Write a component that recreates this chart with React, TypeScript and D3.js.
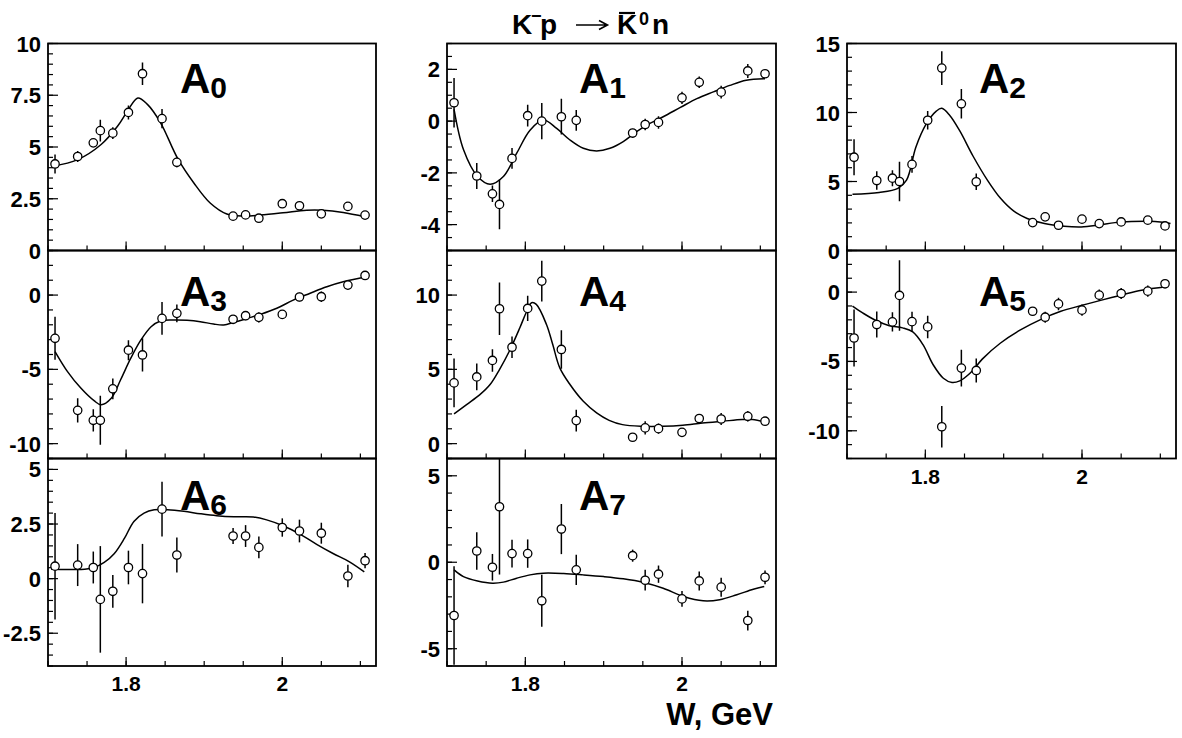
import React from 'react';
import * as d3 from 'd3';

// beam energies (W, GeV) of the measured points
const energies = [1.709, 1.738, 1.758, 1.767, 1.783, 1.803, 1.821, 1.846, 1.865, 1.937, 1.953, 1.97, 2.0, 2.022, 2.05, 2.084, 2.106];

const a0 = [4.18, 4.54, 5.2, 5.79, 5.67, 6.67, 8.54, 6.37, 4.26, 1.66, 1.72, 1.56, 2.26, 2.16, 1.77, 2.13, 1.71];
const a0Err = [0.46, 0.27, 0.18, 0.53, 0.28, 0.34, 0.54, 0.46, 0.24, 0.1, 0.1, 0.1, 0.1, 0.1, 0.1, 0.1, 0.1];
const a1 = [0.71, -2.12, -2.81, -3.22, -1.44, 0.21, 0.0, 0.17, 0.03, -0.46, -0.13, -0.05, 0.9, 1.5, 1.12, 1.94, 1.83];
const a1Err = [0.96, 0.5, 0.32, 0.96, 0.4, 0.42, 0.7, 0.69, 0.4, 0.17, 0.22, 0.24, 0.24, 0.22, 0.25, 0.27, 0.14];
const a2 = [6.76, 5.07, 5.24, 5.0, 6.24, 9.44, 13.22, 10.63, 4.98, 2.02, 2.44, 1.83, 2.27, 1.95, 2.07, 2.2, 1.78];
const a2Err = [1.3, 0.67, 0.58, 1.43, 0.6, 0.67, 1.22, 1.07, 0.6, 0.15, 0.2, 0.15, 0.15, 0.15, 0.15, 0.2, 0.15];
const a3 = [-2.91, -7.76, -8.43, -8.43, -6.31, -3.71, -4.03, -1.57, -1.23, -1.63, -1.39, -1.5, -1.3, -0.13, -0.11, 0.67, 1.32];
const a3Err = [1.45, 0.82, 0.75, 1.65, 0.7, 0.67, 1.12, 1.1, 0.6, 0.25, 0.3, 0.35, 0.2, 0.3, 0.35, 0.3, 0.2];
const a4 = [4.09, 4.49, 5.6, 9.08, 6.49, 9.1, 10.94, 6.34, 1.55, 0.43, 1.06, 1.01, 0.76, 1.69, 1.66, 1.84, 1.51];
const a4Err = [1.64, 0.9, 0.76, 1.76, 0.72, 0.85, 1.37, 1.3, 0.73, 0.2, 0.45, 0.35, 0.3, 0.3, 0.4, 0.35, 0.2];
const a5 = [-3.31, -2.34, -2.15, -0.24, -2.13, -2.51, -9.71, -5.48, -5.65, -1.38, -1.81, -0.85, -1.3, -0.22, -0.1, 0.07, 0.6];
const a5Err = [2.05, 0.94, 0.69, 2.54, 0.72, 0.81, 1.5, 1.33, 0.87, 0.3, 0.4, 0.45, 0.4, 0.4, 0.4, 0.4, 0.25];
const a6 = [0.57, 0.62, 0.51, -0.95, -0.58, 0.51, 0.23, 3.18, 1.08, 1.95, 1.95, 1.43, 2.34, 2.18, 2.08, 0.12, 0.82];
const a6Err = [2.44, 0.96, 0.73, 2.44, 0.75, 0.77, 1.36, 1.25, 0.8, 0.37, 0.5, 0.5, 0.42, 0.52, 0.48, 0.52, 0.35];
const a7 = [-3.08, 0.65, -0.29, 3.21, 0.5, 0.5, -2.23, 1.92, -0.44, 0.38, -1.04, -0.69, -2.12, -1.08, -1.44, -3.37, -0.87];
const a7Err = [2.85, 1.08, 0.77, 3.92, 0.8, 0.82, 1.5, 1.45, 0.87, 0.35, 0.6, 0.5, 0.46, 0.55, 0.55, 0.57, 0.4];

// fit curves, [W, value]
const a0Fit = [[1.706, 4.07], [1.738, 4.39], [1.768, 5.12], [1.789, 6.0], [1.802, 6.75], [1.815, 7.37], [1.827, 7.07], [1.844, 6.18], [1.866, 4.45], [1.887, 3.25], [1.908, 2.28], [1.929, 1.76], [1.95, 1.66], [1.972, 1.71], [2.001, 1.82], [2.031, 1.95], [2.052, 1.95], [2.078, 1.84], [2.106, 1.63]];
const a1Fit = [[1.709, 0.45], [1.721, -1.1], [1.739, -2.14], [1.755, -2.44], [1.772, -2.14], [1.789, -1.24], [1.806, -0.35], [1.823, 0.04], [1.84, -0.28], [1.857, -0.73], [1.874, -1.05], [1.891, -1.15], [1.908, -1.05], [1.925, -0.79], [1.942, -0.41], [1.959, -0.09], [1.976, 0.17], [1.998, 0.53], [2.019, 0.87], [2.04, 1.13], [2.061, 1.38], [2.082, 1.58], [2.106, 1.64]];
const a2Fit = [[1.707, 4.07], [1.741, 4.2], [1.765, 4.5], [1.776, 5.1], [1.788, 7.5], [1.801, 9.15], [1.814, 10.1], [1.821, 10.3], [1.831, 9.8], [1.844, 8.66], [1.861, 6.83], [1.879, 5.12], [1.896, 3.78], [1.913, 2.85], [1.93, 2.32], [1.952, 1.95], [1.977, 1.76], [1.999, 1.71], [2.02, 1.83], [2.042, 2.02], [2.063, 2.1], [2.085, 2.12], [2.1, 2.07], [2.113, 1.95]];
const a3Fit = [[1.709, -3.8], [1.725, -5.15], [1.742, -6.26], [1.759, -7.11], [1.768, -7.38], [1.781, -6.94], [1.793, -5.7], [1.806, -4.25], [1.819, -3.02], [1.832, -2.13], [1.844, -1.74], [1.861, -1.68], [1.878, -1.7], [1.895, -1.79], [1.912, -1.95], [1.925, -2.01], [1.938, -1.83], [1.955, -1.57], [1.972, -1.3], [1.993, -0.89], [2.014, -0.34], [2.035, 0.11], [2.057, 0.56], [2.078, 0.89], [2.106, 1.21]];
const a4Fit = [[1.709, 2.0], [1.725, 2.63], [1.742, 3.3], [1.755, 3.98], [1.767, 4.99], [1.78, 6.27], [1.793, 7.8], [1.801, 8.81], [1.808, 9.48], [1.814, 9.37], [1.827, 8.02], [1.835, 6.67], [1.844, 5.1], [1.857, 3.98], [1.874, 2.85], [1.891, 2.07], [1.907, 1.57], [1.924, 1.28], [1.95, 1.17], [1.975, 1.17], [2.001, 1.24], [2.026, 1.39], [2.052, 1.51], [2.077, 1.62], [2.09, 1.62], [2.105, 1.46]];
const a5Fit = [[1.707, -1.01], [1.72, -1.5], [1.737, -2.05], [1.754, -2.42], [1.771, -2.58], [1.784, -2.87], [1.797, -3.79], [1.81, -5.24], [1.823, -6.21], [1.834, -6.52], [1.844, -6.4], [1.857, -5.85], [1.874, -4.76], [1.896, -3.67], [1.922, -2.71], [1.947, -1.98], [1.973, -1.38], [1.999, -0.97], [2.025, -0.58], [2.05, -0.22], [2.076, 0.14], [2.108, 0.39]];
const a6Fit = [[1.704, 0.43], [1.725, 0.42], [1.747, 0.43], [1.759, 0.51], [1.772, 0.74], [1.785, 1.15], [1.798, 1.85], [1.81, 2.62], [1.823, 3.0], [1.836, 3.15], [1.853, 3.15], [1.874, 3.08], [1.895, 2.97], [1.916, 2.88], [1.938, 2.83], [1.963, 2.82], [1.98, 2.69], [2.001, 2.42], [2.023, 2.03], [2.044, 1.57], [2.065, 1.15], [2.086, 0.77], [2.105, 0.31]];
const a7Fit = [[1.709, -0.44], [1.721, -0.83], [1.739, -1.08], [1.758, -1.21], [1.772, -1.15], [1.789, -0.92], [1.806, -0.73], [1.823, -0.63], [1.849, -0.65], [1.874, -0.73], [1.9, -0.83], [1.925, -0.96], [1.951, -1.17], [1.976, -1.5], [2.002, -1.98], [2.027, -2.23], [2.048, -2.17], [2.07, -1.88], [2.091, -1.56], [2.105, -1.4]];

const xDomain = [1.7, 2.12];
const xMajor = [1.8, 2.0];
const xLabels = ['1.8', '2'];

const font = "'Liberation Sans', Arial, Helvetica, sans-serif";
const colX = [[48, 376], [447, 776], [847, 1176]];
const rowY = [[43.5, 250.5], [250.5, 458.5], [458.5, 666]];
const labelDy = [49.5, 55, 51.5];

const panels = [
  { n: 0, vals: a0, errs: a0Err, fit: a0Fit, domain: [0, 10], major: 2.5, minor: 0.5, row: 0, col: 0 },
  { n: 1, vals: a1, errs: a1Err, fit: a1Fit, domain: [-5, 3], major: 2, minor: 0.5, row: 0, col: 1 },
  { n: 2, vals: a2, errs: a2Err, fit: a2Fit, domain: [0, 15], major: 5, minor: 1, row: 0, col: 2 },
  { n: 3, vals: a3, errs: a3Err, fit: a3Fit, domain: [-11, 3], major: 5, minor: 1, row: 1, col: 0 },
  { n: 4, vals: a4, errs: a4Err, fit: a4Fit, domain: [-1, 13], major: 5, minor: 1, row: 1, col: 1 },
  { n: 5, vals: a5, errs: a5Err, fit: a5Fit, domain: [-12, 3], major: 5, minor: 1, row: 1, col: 2, xAxis: true },
  { n: 6, vals: a6, errs: a6Err, fit: a6Fit, domain: [-4, 5.5], major: 2.5, minor: 0.5, row: 2, col: 0, xAxis: true },
  { n: 7, vals: a7, errs: a7Err, fit: a7Fit, domain: [-6, 6], major: 5, minor: 1, row: 2, col: 1, xAxis: true },
];

function steps(lo: number, hi: number, step: number) {
  const out: number[] = [];
  for (let k = Math.ceil(lo / step - 1e-9); k * step <= hi + 1e-9; k++) out.push(+(k * step).toFixed(4));
  return out;
}

function Panel({ p }: { p: any }) {
  const [x0, x1] = colX[p.col];
  const [y0, y1] = rowY[p.row];
  const x = d3.scaleLinear().domain(xDomain).range([x0, x1]);
  const y = d3.scaleLinear().domain(p.domain).range([y1, y0]);
  const line = d3
    .line<number[]>()
    .x(d => x(d[0]))
    .y(d => y(d[1]))
    .curve(d3.curveCatmullRom.alpha(0.5));
  const clipId = `clip${p.n}`;
  const yMinor = steps(p.domain[0], p.domain[1], p.minor);
  const yMajor = steps(p.domain[0], p.domain[1], p.major);
  const xMinor = steps(xDomain[0], xDomain[1], 0.05);

  return (
    <g>
      <defs>
        <clipPath id={clipId}>
          <rect x={x0} y={y0} width={x1 - x0} height={y1 - y0} />
        </clipPath>
      </defs>
      <g stroke="#000" strokeWidth={1.2}>
        {yMinor.map((v, i) => (
          <line key={'ym' + i} x1={x0} x2={x0 + 5} y1={y(v)} y2={y(v)} />
        ))}
        {yMajor.map((v, i) => (
          <line key={'yM' + i} x1={x0} x2={x0 + 10} y1={y(v)} y2={y(v)} />
        ))}
        {xMinor.map((v, i) => (
          <line key={'xm' + i} x1={x(v)} x2={x(v)} y1={y1} y2={y1 - 5} />
        ))}
        {xMajor.map((v, i) => (
          <line key={'xM' + i} x1={x(v)} x2={x(v)} y1={y1} y2={y1 - 9} />
        ))}
      </g>
      <g fontFamily={font} fontWeight="bold" fontSize={22} textAnchor="end">
        {yMajor.map((v, i) => (
          <text key={i} x={x0 - 7} y={y(v) + 8}>
            {String(v)}
          </text>
        ))}
      </g>
      {p.xAxis && (
        <g fontFamily={font} fontWeight="bold" fontSize={21} textAnchor="middle">
          {xMajor.map((v, i) => (
            <text key={i} x={x(v)} y={y1 + 25}>
              {xLabels[i]}
            </text>
          ))}
        </g>
      )}
      <g clipPath={`url(#${clipId})`}>
        <path d={line(p.fit) || ''} fill="none" stroke="#000" strokeWidth={1.5} />
        {energies.map((w, i) => (
          <line
            key={'e' + i}
            x1={x(w)}
            x2={x(w)}
            y1={y(p.vals[i] - p.errs[i])}
            y2={y(p.vals[i] + p.errs[i])}
            stroke="#000"
            strokeWidth={1.5}
          />
        ))}
        {energies.map((w, i) => (
          <circle key={'c' + i} cx={x(w)} cy={y(p.vals[i])} r={4.2} fill="#fff" stroke="#000" strokeWidth={1.3} />
        ))}
      </g>
      <rect x={x0} y={y0} width={x1 - x0} height={y1 - y0} fill="none" stroke="#000" strokeWidth={1.8} />
      <text x={x0 + 132} y={y0 + labelDy[p.row]} fontFamily={font} fontWeight="bold" fontSize={42}>
        A
        <tspan fontSize={30} dy={5}>
          {p.n}
        </tspan>
      </text>
    </g>
  );
}

export default function App() {
  return (
    <div style={{ position: 'absolute', left: 0, top: 0 }}>
      <svg width={1182} height={738} style={{ display: 'block', background: '#fff' }}>
        <rect width={1182} height={738} fill="#fff" />
        {panels.map(p => (
          <Panel key={p.n} p={p} />
        ))}
        {/* title */}
        <g fontFamily={font} fontWeight="bold" fontSize={28}>
          <text x={512} y={34}>K</text>
          <text x={531} y={22} fontSize={18}>−</text>
          <text x={540} y={34}>p</text>
          <path d="M576,25H607M599,20.5L607.5,25L599,29.5" fill="none" stroke="#000" strokeWidth={1.6} />
          <text x={617} y={34}>K</text>
          <line x1={619} x2={635} y1={13} y2={13} stroke="#000" strokeWidth={2.2} />
          <text x={639} y={25} fontSize={18}>0</text>
          <text x={652} y={34}>n</text>
        </g>
        <text x={773} y={725} fontFamily={font} fontWeight="bold" fontSize={31} textAnchor="end">
          W, GeV
        </text>
      </svg>
    </div>
  );
}
